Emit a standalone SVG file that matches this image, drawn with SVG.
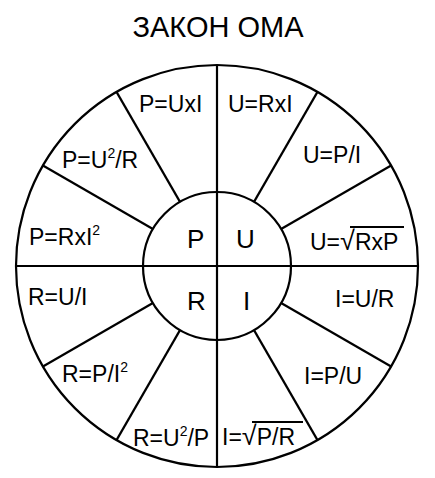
<svg xmlns="http://www.w3.org/2000/svg" width="435" height="478" viewBox="0 0 435 478">
<style>
text{font-family:"Liberation Sans",Arial,sans-serif;fill:#000}
.f{font-size:23px}
.c{font-size:26px}
.t{font-size:29px}
.s{font-size:14px}
.r{font-size:27px}
.ln{stroke:#000;stroke-width:2.2;fill:none}
.ov{stroke:#000;stroke-width:2;fill:none}
</style>
<rect width="435" height="478" fill="#fff"/>
<text id="title" class="t" x="218" y="37" text-anchor="middle">ЗАКОН ОМА</text>
<g id="wheel">
<circle class="ln" cx="217" cy="266" r="201"/>
<circle class="ln" cx="217" cy="266" r="74"/>
<line class="ln" x1="217" y1="65" x2="217" y2="467" stroke-width="2.6"/>
<line class="ln" x1="16" y1="266" x2="418" y2="266"/>
</g>
<g id="connectors">
<line class="ln" x1="254" y1="201.9" x2="317.5" y2="91.9"/>
<line class="ln" x1="281.1" y1="229" x2="391.1" y2="165.5"/>
<line class="ln" x1="281.1" y1="303" x2="391.1" y2="366.5"/>
<line class="ln" x1="254" y1="330.1" x2="317.5" y2="440.1"/>
<line class="ln" x1="180" y1="330.1" x2="116.5" y2="440.1"/>
<line class="ln" x1="152.9" y1="303" x2="42.9" y2="366.5"/>
<line class="ln" x1="152.9" y1="229" x2="42.9" y2="165.5"/>
<line class="ln" x1="180" y1="201.9" x2="116.5" y2="91.9"/>
</g>
<g id="center-P"><text class="c" x="187" y="248">P</text></g>
<g id="center-U"><text class="c" x="236" y="248">U</text></g>
<g id="center-R"><text class="c" x="187" y="310">R</text></g>
<g id="center-I"><text class="c" x="243" y="310">I</text></g>
<g id="f1"><text class="f" x="139" y="112">P=UxI</text></g>
<g id="f2"><text class="f" x="228" y="112">U=RxI</text></g>
<g id="f3"><text class="f" x="303" y="163">U=P/I</text></g>
<g id="f4"><text class="f" x="62" y="168">P=U<tspan class="s" dy="-10">2</tspan><tspan dy="10">/R</tspan></text></g>
<g id="f5"><text class="f" x="29" y="245">P=RxI<tspan class="s" dy="-10">2</tspan></text></g>
<g id="f6"><text class="f" x="28" y="305">R=U/I</text></g>
<g id="f7"><text class="f" x="62" y="382">R=P/I<tspan class="s" dy="-10">2</tspan></text></g>
<g id="f8"><text class="f" x="133" y="446">R=U<tspan class="s" dy="-10">2</tspan><tspan dy="10">/P</tspan></text></g>
<g id="f9"><text class="f" x="222" y="445">I=<tspan class="r">√</tspan>P/R</text><line class="ov" x1="252" y1="422" x2="303" y2="422"/></g>
<g id="f10"><text class="f" x="304" y="384">I=P/U</text></g>
<g id="f11"><text class="f" x="335" y="307">I=U/R</text></g>
<g id="f12"><text class="f" x="310" y="250">U=<tspan class="r">√</tspan>RxP</text><line class="ov" x1="350" y1="227" x2="404" y2="227"/></g>
</svg>
